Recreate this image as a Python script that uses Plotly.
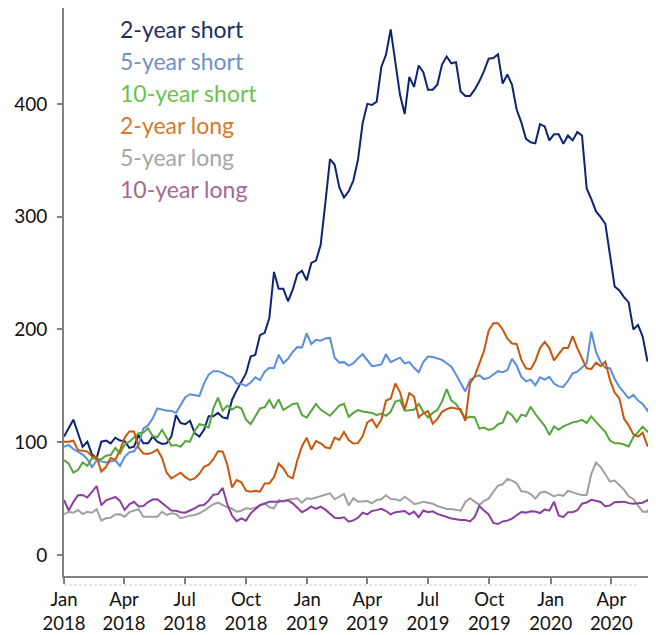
import pandas as pd
import plotly.graph_objects as go

dates = pd.date_range("2018-01-01", periods=127, freq="7D")

two_year_short = [
    105, 113, 120, 108, 96, 100.5, 89, 86, 100.5, 101.5,
    99, 104, 101.5, 101, 95, 96, 106.5, 99, 99, 105,
    100.5, 98.5, 99, 105, 124, 117, 116, 119, 108, 105,
    111, 123, 123, 126, 122, 121, 137.5, 146, 153, 161,
    176, 177.5, 195, 197, 210, 251, 236, 236, 225, 235,
    249, 252, 243.5, 259, 261, 275, 312, 351, 346, 326,
    317, 322.5, 332, 350.5, 383, 400, 399, 402, 432.7, 443.6,
    466, 437.7, 408, 391, 424, 415, 434, 428, 412.6, 412.6,
    417, 434.8, 442, 436, 437, 411, 407, 407, 412.6, 420,
    429, 440, 440.7, 444, 418, 426, 417, 395, 383.6, 369,
    366, 365, 382, 380, 367.6, 373, 373, 364.7, 372, 367.6,
    375, 372, 325, 315.6, 304.6, 299.6, 293.7, 266, 238, 234.5,
    228.6, 224, 200, 204, 193.7, 172.4, 173]

five_year_short = [
    96, 97.6, 94, 91.5, 89, 85, 78, 84, 83, 82,
    83, 84, 79, 87, 91, 92, 98, 112, 115, 121,
    130, 129, 128, 128, 126, 133, 140, 142.6, 142, 141,
    152, 160, 163, 163, 161.5, 159, 157.6, 152, 151.7, 150,
    153, 157.6, 155, 162.6, 166, 165.6, 177.5, 170, 174, 180,
    184.3, 184, 196.5, 187, 190.8, 190, 192, 192.5, 175, 170.6,
    171, 168, 170, 174.5, 178, 173, 167.5, 168, 169, 178,
    171, 173, 175, 170, 171, 166, 162, 171, 176, 175.5,
    174.5, 173, 170, 167, 160, 152, 145, 155, 158, 159.5,
    156, 157, 160, 163, 162, 164, 174, 168, 158, 154,
    155.5, 150.5, 157.5, 155.5, 158, 152, 149.5, 149, 154.5, 161,
    162.6, 166, 170, 198, 180, 171, 166, 165.6, 156, 149,
    144, 139, 142, 137, 134, 128, 136]

ten_year_short = [
    84.3, 81, 73, 75.4, 82, 79, 86, 85, 85, 88,
    88.7, 95, 90, 98, 100.5, 104, 108, 108.5, 112.4, 105.5,
    104.4, 111, 103.5, 97, 97.6, 96, 101, 100.5, 110, 116,
    115, 113, 130, 139.6, 128, 132.5, 129, 131.6, 130, 120,
    116, 123, 130, 131, 137.5, 130, 138, 128.5, 131.5, 134,
    134.5, 124, 121.8, 127.5, 134, 129, 126.5, 123.5, 128, 132.5,
    134, 122.5, 126, 128.5, 127.3, 126.8, 126, 124, 125.5, 123.5,
    127, 136, 137.3, 128, 128.5, 128.7, 134, 127, 122, 126,
    128.5, 136, 147, 137, 134, 127.5, 121, 122.5, 122.2, 112,
    113, 111, 112, 116, 117.4, 127, 124, 118, 124.5, 123.3,
    131.5, 125, 120, 114.5, 106.5, 114, 111, 114, 115.8, 117.6,
    118.3, 119.8, 117, 123, 118, 113.3, 109, 101.5, 99, 99,
    98, 96.3, 104.5, 109, 113.8, 109.4, 113.5]

two_year_long = [
    100.5, 100.5, 101.4, 93, 92.5, 91.7, 87.5, 86.7, 74, 78,
    86, 84.5, 93, 104, 109.5, 109.5, 95, 90, 89.6, 91,
    93.5, 86, 73, 68, 70.5, 73, 69, 66.5, 68, 72,
    78.3, 80, 85, 92, 91.8, 80, 60, 66.5, 64.5, 57,
    56.2, 57, 56.2, 63.5, 63.6, 69, 81, 77, 70, 68,
    84, 96.5, 104, 93.5, 101, 99, 95.5, 94.5, 104, 102,
    109, 102, 98.8, 99.2, 105.5, 117.5, 120.2, 113.5, 120, 137,
    138.5, 152, 144.5, 129, 143.5, 140.5, 122, 125.7, 127.6, 116.5,
    120.5, 127, 129.3, 130.8, 130, 129.3, 119, 152, 158.5, 170,
    181, 199, 205.5, 205.5, 200, 192, 187.5, 187.2, 173, 165.5,
    164.8, 172, 183.5, 189, 183.5, 172.5, 178.5, 183.5, 183.5, 194,
    183.5, 174.5, 165.5, 165, 170.5, 167.5, 171.5, 155, 144, 139,
    121, 115, 107, 105, 108.5, 97, 94]

five_year_long = [
    36.1, 38.4, 37.5, 39.9, 36.4, 38.4, 37.5, 40.6, 30.5, 32.6,
    33.1, 36, 36.1, 34, 38, 39.5, 40.6, 34, 34, 34.6,
    34, 38.4, 35.5, 37, 36.4, 32.6, 34, 34.9, 35.5, 37,
    39.3, 42, 45, 46.4, 44, 42.3, 41, 38.4, 39.3, 41.4,
    40.8, 42, 44, 45.9, 42.3, 41.4, 48.8, 47.3, 49, 49.7,
    50.3, 46.4, 50.3, 49.7, 50.8, 52.4, 53.2, 54.7, 49.4, 51.7,
    54.1, 44, 50.3, 47.3, 47.3, 47.9, 45.9, 48.8, 49.4, 53,
    49.7, 49.4, 48.2, 51.7, 48.8, 45.3, 45.9, 47.3, 46.4, 45.5,
    43.5, 42, 40.8, 40.8, 39.9, 39.3, 47, 50.3, 47.3, 44.4,
    48, 50, 56, 61.5, 62.7, 67.5, 66, 63.6, 56.5, 56.2,
    54, 50, 55, 56.2, 54.5, 52, 53.5, 52.5, 57, 55.5,
    54.2, 53.3, 53.2, 72, 82, 78, 71.5, 65, 66, 62,
    58, 52, 49.6, 44, 38.4, 38.4, 45.5]

ten_year_long = [
    48.8, 39.5, 47, 53, 53.3, 51, 56, 61.2, 44, 48.5,
    50, 51.5, 48, 40, 45, 47.2, 43, 43.5, 47, 49.2,
    49.4, 46.5, 42.8, 39.5, 39.3, 38, 37.6, 39.5, 41.3, 44,
    44.4, 48.2, 53.5, 54, 59.5, 45, 35, 30, 32.5, 30.5,
    37, 40.6, 44.4, 45.5, 47.3, 47.3, 47.3, 48, 48.6, 45.8,
    42, 38, 40.3, 43, 41, 42.8, 40.2, 37, 33, 32.6,
    33.5, 29.5, 30.7, 33, 37.5, 36, 39, 39.8, 41, 39,
    36, 38, 38.4, 39, 36, 38.5, 33.5, 39.5, 38, 38.8,
    36.5, 35, 33.5, 32.4, 31.8, 31, 31, 29.8, 33.7, 43.5,
    39.5, 36, 28.5, 27.5, 29.8, 30.5, 32.3, 35, 38.2, 37.6,
    38.8, 38.5, 37.2, 40.4, 39.3, 47.3, 35, 33.6, 38, 38,
    39.7, 45.5, 46.6, 49, 48, 47, 43, 44, 46.8, 47.3,
    47.3, 46, 45.4, 45.9, 46.4, 48.6, 43.5]

series_names = ["2-year short", "5-year short", "10-year short",
                "2-year long", "5-year long", "10-year long"]
series_values = [two_year_short, five_year_short, ten_year_short,
                 two_year_long, five_year_long, ten_year_long]
line_colors = ["#0c2474", "#5b8ddf", "#55a63a", "#c8570b", "#a0a0a0", "#8a3e9f"]
label_colors = ["#1b2f66", "#6f8fc8", "#6cc24a", "#d37a2c", "#a6a6a6", "#a06b92"]

x_tick_vals = ["2018-01-01", "2018-04-01", "2018-07-01", "2018-10-01",
               "2019-01-01", "2019-04-01", "2019-07-01", "2019-10-01",
               "2020-01-01", "2020-04-01"]
x_tick_text = ["Jan<br>2018", "Apr<br>2018", "Jul<br>2018", "Oct<br>2018",
               "Jan<br>2019", "Apr<br>2019", "Jul<br>2019", "Oct<br>2019",
               "Jan<br>2020", "Apr<br>2020"]
y_tick_vals = [0, 100, 200, 300, 400]

FONT = "Lato, 'Noto Sans', sans-serif"

fig = go.Figure()
for name, vals, col in zip(series_names, series_values, line_colors):
    fig.add_trace(go.Scatter(x=list(dates[:len(vals)]), y=vals, mode="lines",
                             name=name, line=dict(color=col, width=2)))

# The page body has an 8px margin, so the figure is sized 8px smaller
W, H = 648, 627
ml, mr, mt, mb = 56, 4, 0, 59
pw, ph = W - ml - mr, H - mt - mb

# text-only legend
for i, (name, col) in enumerate(zip(series_names, label_colors)):
    ypix = 21 + 32 * i
    fig.add_annotation(x=(110 - ml) / pw, y=(ph - ypix) / ph,
                       xref="paper", yref="paper", xanchor="left", yanchor="middle",
                       text=name, showarrow=False,
                       font=dict(family=FONT, size=23, color=col))

# faint dashed band under the x axis
fig.add_shape(type="line", xref="paper", yref="paper",
              x0=0, x1=(630 - ml) / pw, y0=-9 / ph, y1=-9 / ph,
              line=dict(color="#c8c8c8", width=1, dash="3px,2px"))

fig.update_layout(
    width=W, height=H,
    margin=dict(l=ml, r=mr, t=mt, b=mb, autoexpand=False),
    paper_bgcolor="white", plot_bgcolor="white",
    showlegend=False,
    font=dict(family=FONT, size=19, color="#111111"),
)
fig.update_xaxes(type="date", range=["2018-01-01", "2020-06-01"],
                 tickmode="array", tickvals=x_tick_vals, ticktext=x_tick_text,
                 showline=True, linecolor="#808080", linewidth=2,
                 ticks="outside", ticklen=6, tickcolor="#808080", tickwidth=1.5,
                 showgrid=False, zeroline=False, automargin=False,
                 tickfont=dict(family=FONT, size=18.5, color="#111111"))
fig.update_yaxes(range=[-18.6, 485], tickmode="array", tickvals=y_tick_vals,
                 showline=True, linecolor="#808080", linewidth=2,
                 ticks="outside", ticklen=5, tickcolor="#808080", tickwidth=1.5,
                 showgrid=False, zeroline=False, ticklabelstandoff=6, automargin=False,
                 tickfont=dict(family=FONT, size=19, color="#111111"))

fig.write_html("out.html")
